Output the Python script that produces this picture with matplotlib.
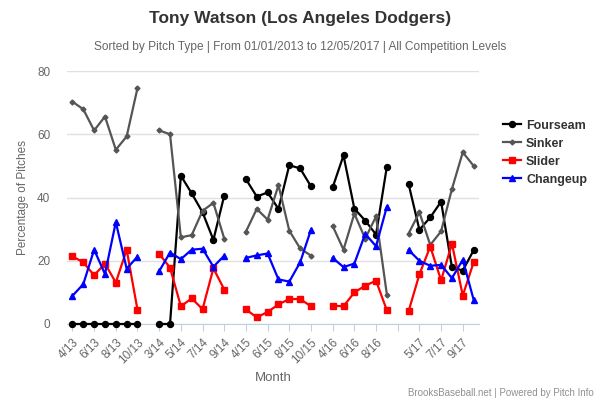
import matplotlib
matplotlib.use('Agg')
import matplotlib.pyplot as plt
import numpy as np

plt.rcParams['font.family'] = ['Liberation Sans', 'DejaVu Sans']

# month slots (None = gap between seasons)
months = ['4/13', '5/13', '6/13', '7/13', '8/13', '9/13', '10/13', None,
          '3/14', '4/14', '5/14', '6/14', '7/14', '8/14', '9/14', None,
          '4/15', '5/15', '6/15', '7/15', '8/15', '9/15', '10/15', None,
          '4/16', '5/16', '6/16', '7/16', '8/16', '9/16', None,
          '4/17', '5/17', '6/17', '7/17', '8/17', '9/17', '10/17']

nan = np.nan
fourseam = [0, 0, 0, 0, 0, 0, 0, nan,
            0, 0, 46.9, 41.3, 35.3, 26.6, 40.6, nan,
            45.8, 40.3, 41.6, 36.4, 50.2, 49.2, 43.5, nan,
            43.2, 53.3, 36.5, 32.7, 28.3, 49.8, nan,
            44.3, 29.8, 33.7, 38.7, 17.9, 16.9, 23.3]
sinker = [70.3, 67.9, 61.2, 65.6, 55.1, 59.3, 74.6, nan,
          61.2, 60.0, 27.4, 28.1, 35.8, 38.3, 27.0, nan,
          29.2, 36.4, 33.0, 43.9, 29.5, 23.9, 21.6, nan,
          31.0, 23.5, 34.9, 27.0, 34.0, 9.3, nan,
          28.6, 35.3, 25.0, 29.3, 42.7, 54.3, 50.0]
slider = [21.4, 19.5, 15.4, 19.1, 13.1, 23.5, 4.5, nan,
          22.2, 17.8, 5.6, 8.1, 4.7, 17.6, 10.9, nan,
          4.6, 2.1, 3.8, 6.2, 7.9, 7.9, 5.6, nan,
          5.8, 5.6, 10.0, 12.1, 13.7, 4.3, nan,
          4.0, 15.7, 24.5, 13.8, 25.4, 9.0, 19.5]
changeup = [8.9, 12.6, 23.5, 15.8, 32.2, 17.5, 21.3, nan,
            16.7, 22.6, 20.5, 23.5, 23.8, 18.1, 21.6, nan,
            20.9, 21.7, 22.3, 14.1, 13.4, 19.5, 29.8, nan,
            20.9, 18.0, 19.1, 28.5, 24.6, 37.1, nan,
            23.4, 20.0, 18.4, 18.7, 14.5, 20.3, 7.7]

x = np.arange(len(months))

fig = plt.figure(figsize=(6, 4), dpi=100)
ax = fig.add_axes([0.1117, 0.19, 0.6867, 0.6325])

ax.plot(x, fourseam, color='black', lw=1.6, marker='o', ms=4.3, label='Fourseam', clip_on=False, zorder=3)
ax.plot(x, sinker, color='#555555', lw=1.6, marker='D', ms=2.5, label='Sinker', clip_on=False, zorder=3)
ax.plot(x, slider, color='#ff0000', lw=1.6, marker='s', ms=4, label='Slider', clip_on=False, zorder=3)
ax.plot(x, changeup, color='#0000ff', lw=1.6, marker='^', ms=4.3, label='Changeup', clip_on=False, zorder=3)

ax.set_xlim(-0.5, len(months) - 0.5)
ax.set_ylim(0, 80)
ax.set_yticks([0, 20, 40, 60, 80])
ax.grid(axis='y', color='#e0e0e0', lw=1)
ax.set_axisbelow(True)

ticks = x[::2]
labels = [months[i] if months[i] else '' for i in ticks]
ax.set_xticks(ticks)
ax.set_xticklabels(labels, rotation=45, ha='right', rotation_mode='anchor', color='#666666', fontsize=8.5)
ax.tick_params(axis='x', direction='out', length=5, color='#c0d0e0', pad=4)
ax.tick_params(axis='y', length=0, labelcolor='#666666', labelsize=8.5, pad=12)

for s in ['top', 'right', 'left']:
    ax.spines[s].set_visible(False)
ax.spines['bottom'].set_color('#c0d0e0')

ax.set_xlabel('Month', color='#666666', fontsize=9.5, labelpad=4)
ax.set_ylabel('Percentage of Pitches', color='#666666', fontsize=8.5, labelpad=6)

fig.text(0.5, 0.955, 'Tony Watson (Los Angeles Dodgers)', ha='center', va='center',
         fontsize=12.5, fontweight='bold', color='#333333')
fig.text(0.5, 0.883, 'Sorted by Pitch Type | From 01/01/2013 to 12/05/2017 | All Competition Levels',
         ha='center', va='center', fontsize=8.6, color='#666666')
fig.text(0.99, 0.018, 'BrooksBaseball.net | Powered by Pitch Info', ha='right', va='center',
         fontsize=7, color='#909090')

leg = ax.legend(loc='upper left', bbox_to_anchor=(1.045, 0.83), frameon=False,
                handlelength=1.3, handletextpad=0.35, labelspacing=0.38, borderaxespad=0)
for t in leg.get_texts():
    t.set_fontweight('bold')
    t.set_color('#333333')
    t.set_fontsize(9)

fig.savefig('out.png', dpi=100)
